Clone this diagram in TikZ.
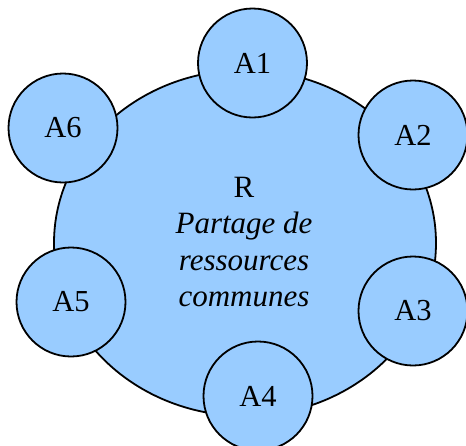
\documentclass[tikz,border=0pt]{standalone}
\usepackage{fontspec}
\setmainfont{Liberation Serif}
\definecolor{fillblue}{RGB}{153,204,255}
\tikzset{
  bigres/.style={ellipse, draw=black, line width=1.8pt, fill=fillblue, minimum width=382pt, minimum height=346pt, inner sep=0pt},
  actor/.style={circle, draw=black, line width=1.8pt, fill=fillblue, minimum size=109pt, inner sep=0pt, font=\fontsize{30.5}{36}\selectfont},
  rlabel/.style={align=center, inner sep=0pt, font=\fontsize{31}{36.5}\selectfont}
}
\usetikzlibrary{shapes.geometric}
\begin{document}
\begin{tikzpicture}[x=1pt,y=-1pt]
\useasboundingbox (0,0) rectangle (466,445);
\node[bigres] (R) at (245,243) {};
\node[rlabel] (Rt) at (244,242) {R\\\textit{Partage de}\\\textit{ressources}\\\textit{communes}};
\node[actor] (A1) at (252.5,63) {A1};
\node[actor] (A2) at (413,135) {A2};
\node[actor] (A3) at (413,311) {A3};
\node[actor] (A4) at (258,396) {A4};
\node[actor] (A5) at (71,302) {A5};
\node[actor] (A6) at (63,128) {A6};
\end{tikzpicture}
\end{document}
